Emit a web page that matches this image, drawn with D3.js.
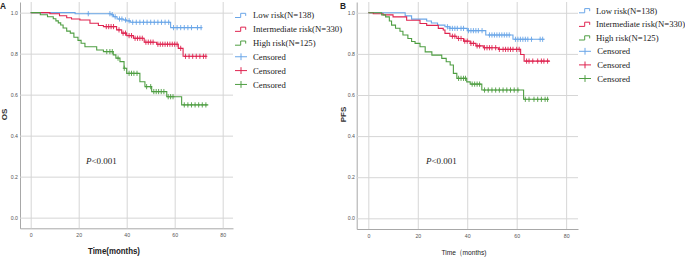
<!DOCTYPE html>
<html><head><meta charset="utf-8">
<script src="https://cdn.jsdelivr.net/npm/d3@7"></script>
<style>body{margin:0;background:#fff}svg{display:block}</style>
</head><body><svg id="c" width="685" height="257"></svg>
<script>
const timeTicks=[0,20,40,60,80];
const survTicks=[0,0.2,0.4,0.6,0.8,1.0];
const groups=["Low risk(N=138)","Intermediate risk(N=330)","High risk(N=125)"];
const censorLabel="Censored";
const colors=["#6aa6e8","#df2450","#4f9e43"];

// Panel A : OS  [months, survival]
const osLow=[[0,1],[18.5,0.995],[33.5,0.99],[34.5,0.98],[36,0.969],[38.6,0.964],[40,0.96],[41.5,0.953],[58.3,0.927],[71.3,0.927]];
const osLowCens=[24,33,34,35.2,37,38,39.5,41,42.5,44,45.5,47,48.5,50,51.5,53,54.5,56,57.5,59.5,61,62.5,64,65.5,67,69.5,71];
const osMid=[[0,1],[8,0.995],[12,0.985],[15,0.975],[17,0.969],[20.5,0.964],[24.7,0.948],[28.2,0.937],[30.3,0.932],[35.8,0.916],[37.9,0.9],[40,0.888],[42.8,0.875],[47.3,0.856],[52.5,0.846],[61.5,0.826],[63.5,0.787],[73.3,0.787]];
const osMidCens=[31.5,32.5,33.5,34.5,36.8,38.5,39.5,41,42,43.5,44.5,45.5,46.5,48,49,50,51,53,54,55,56,57,58,59,60,61,62.5,64.5,66,67.5,69,70.5,72,73];
const osHigh=[[0,1],[4,0.99],[7,0.98],[9.4,0.97],[10.5,0.96],[11.5,0.95],[12.5,0.94],[13.5,0.925],[15,0.91],[16.5,0.9],[18,0.88],[19.7,0.865],[21,0.851],[22.6,0.834],[27.5,0.818],[30.3,0.81],[34.4,0.794],[35.5,0.778],[37.2,0.761],[38.9,0.729],[40,0.704],[45.5,0.663],[47.6,0.639],[50.4,0.615],[56.7,0.59],[62.9,0.55],[74,0.55]];
const osHighCens=[31.7,33,34,36.4,39,41,42,43,44.3,48.3,50,51.3,52.3,53.3,54.4,55.5,57.3,58.3,59.3,64,65.5,67,68.5,70,71.5,73];

// Panel B : PFS
const pfsLow=[[0,1],[14.9,0.985],[17.5,0.969],[23.6,0.96],[25.5,0.95],[28,0.94],[31,0.932],[33,0.924],[40,0.913],[47.5,0.892],[58.5,0.871],[71.3,0.871]];
const pfsLowCens=[32,33,34,35,36,37.5,38.5,40.5,41.5,42.5,43.5,44.5,46,49,50,51,52,53,54,55,56,57,59.5,60.5,61.5,62.5,63.5,64.5,66,69.5,70.5];
const pfsMid=[[0,1],[2,0.995],[6,0.99],[10,0.98],[15.5,0.964],[20.9,0.948],[23.6,0.939],[28.3,0.924],[30.3,0.916],[31,0.9],[33,0.886],[35.8,0.875],[38.5,0.862],[41.2,0.851],[43.5,0.839],[46.5,0.83],[52.6,0.822],[61.6,0.797],[63,0.765],[73.5,0.765]];
const pfsMidCens=[34,35,36.5,37.5,39,40,41.5,42.5,44,45,47,48,49,50,51.5,53,54.5,55.5,56.5,57.5,58.5,60,61,64,65,66.5,68.5,70,71,72.5];
const pfsHigh=[[0,1],[5.4,0.99],[7,0.98],[8.5,0.96],[9.4,0.94],[11,0.925],[12.8,0.91],[14,0.892],[16,0.875],[17.5,0.86],[18.9,0.851],[20.9,0.835],[23,0.81],[25.7,0.794],[29.7,0.778],[31.5,0.762],[33.1,0.746],[34.4,0.705],[35.8,0.681],[39.8,0.664],[41.2,0.653],[45.9,0.624],[62.8,0.579],[72.9,0.579]];
const pfsHighCens=[36.5,37.5,38.5,39.3,42,43,44,45,47,48.5,50,51.5,53,54.5,56,57.5,59,60.5,63.5,65,67,68.5,70,71.5,72.5];

const svg=d3.select("#c");

function stepValue(curve,t){
  const i=d3.bisector(d=>d[0]).right(curve,t)-1;
  return curve[Math.max(0,i)][1];
}

function panel(cfg){
  const g=svg.append("g");
  const x=d3.scaleLinear().domain(cfg.xDom).range([cfg.left,cfg.right]);
  const y=d3.scaleLinear().domain(cfg.yDom).range([cfg.bottom,cfg.top]);
  const ax=g.append("g").attr("transform",`translate(0,${cfg.bottom})`)
    .call(d3.axisBottom(x).tickValues(timeTicks).tickSize(-(cfg.bottom-cfg.top)).tickSizeOuter(0).tickPadding(5.5));
  const ay=g.append("g").attr("transform",`translate(${cfg.left},0)`)
    .call(d3.axisLeft(y).tickValues(survTicks).tickFormat(d3.format(".1f")).tickSize(-(cfg.right-cfg.left)).tickSizeOuter(0).tickPadding(cfg.yPad));
  [ax,ay].forEach(a=>{
    a.selectAll(".tick line").attr("stroke","#d6d6d6").attr("stroke-width",1);
    a.select(".domain").attr("stroke","#a8a8a8").attr("stroke-width",1);
    a.selectAll("text").attr("fill","#555").style("font-family","Liberation Sans, Arial, sans-serif").style("font-size","5.2px");
  });
  const line=d3.line().curve(d3.curveStepAfter).x(d=>x(d[0])).y(d=>y(d[1]));
  cfg.curves.forEach((c,k)=>{
    g.append("path").attr("d",line(c)).attr("fill","none").attr("stroke",colors[k]).attr("stroke-width",1.1);
  });
  cfg.cens.forEach((cs,k)=>{
    const gc=g.append("g").attr("stroke",colors[k]).attr("stroke-width",0.9);
    cs.forEach(t=>{
      const px=x(t),py=y(stepValue(cfg.curves[k],t));
      gc.append("line").attr("x1",px-1.5).attr("x2",px+1.5).attr("y1",py).attr("y2",py);
      gc.append("line").attr("x1",px).attr("x2",px).attr("y1",py-2.6).attr("y2",py+2.6);
    });
  });
  g.append("text").attr("x",cfg.panelX).attr("y",9.3).text(cfg.panel)
    .style("font-family","Liberation Sans, Arial, sans-serif").style("font-size","8.3px").style("font-weight","bold").attr("fill","#222");
  g.append("text").attr("transform",`translate(${cfg.yLabX},${cfg.yLabY}) rotate(-90)`).attr("text-anchor","middle")
    .text(cfg.yLabel).style("font-family","Liberation Sans, Arial, sans-serif").style("font-size","8px").style("font-weight","bold").attr("fill","#333");
  g.append("text").attr("x",cfg.xLabX).attr("y",cfg.xLabY).attr("text-anchor","middle").text(cfg.xLabel)
    .attr("textLength",cfg.xLabW).attr("lengthAdjust","spacingAndGlyphs")
    .style("font-family","Liberation Sans, Arial, sans-serif").style("font-size",cfg.xLabFs).style("font-weight",cfg.xLabBold?"bold":"normal").attr("fill","#222");
  const pt=g.append("text").attr("x",cfg.pX).attr("y",cfg.pY).style("font-family","Liberation Serif, Times New Roman, serif").style("font-size","9px").attr("fill","#222");
  pt.append("tspan").style("font-style","italic").text("P");
  pt.append("tspan").text("<0.001");
  const lg=g.append("g");
  const rows=groups.map((n,i)=>({type:"step",label:n,c:colors[i]})).concat(groups.map((n,i)=>({type:"cens",label:censorLabel,c:colors[i]})));
  rows.forEach((r,i)=>{
    const yy=cfg.legY+i*cfg.legDy;
    const x0=cfg.legX;
    if(r.type==="step"){
      lg.append("path").attr("d",`M${x0},${yy+2.3}H${x0+5.7}V${yy-1.9}H${x0+10.7}V${yy+0.7}`).attr("fill","none").attr("stroke",r.c).attr("stroke-width",1);
    } else {
      lg.append("line").attr("x1",x0).attr("x2",x0+12).attr("y1",yy).attr("y2",yy).attr("stroke",r.c).attr("stroke-width",1);
      lg.append("line").attr("x1",x0+6).attr("x2",x0+6).attr("y1",yy-3.4).attr("y2",yy+3.4).attr("stroke",r.c).attr("stroke-width",1);
    }
    lg.append("text").attr("x",r.type==="step"?cfg.legTx:cfg.legTx2).attr("y",yy+3.1).text(r.label)
      .style("font-family","Liberation Serif, Times New Roman, serif").style("font-size","8.7px").attr("fill","#222");
  });
}

panel({left:20,right:233,top:2,bottom:228.3,xDom:[-4.46,84.3],yDom:[-0.052,1.052],yPad:2,
  curves:[osLow,osMid,osHigh],cens:[osLowCens,osMidCens,osHighCens],
  panel:"A",panelX:0,yLabel:"OS",yLabX:7,yLabY:114.5,
  xLabel:"Time(months)",xLabX:114,xLabY:254,xLabW:52,xLabFs:"8.5px",xLabBold:true,
  pX:86,pY:164,legX:235,legY:15.2,legDy:13.85,legTx:253,legTx2:253});
panel({left:356.7,right:578,top:2,bottom:229,xDom:[-4.7,84.8],yDom:[-0.052,1.0525],yPad:1.7,
  curves:[pfsLow,pfsMid,pfsHigh],cens:[pfsLowCens,pfsMidCens,pfsHighCens],
  panel:"B",panelX:340,yLabel:"PFS",yLabX:346,yLabY:114.5,
  xLabel:"Time（months)",xLabX:464,xLabY:255,xLabW:45,xLabFs:"8px",xLabBold:false,
  pX:426,pY:163.5,legX:579,legY:10.5,legDy:13.6,legTx:596,legTx2:597.3});
</script></body></html>
